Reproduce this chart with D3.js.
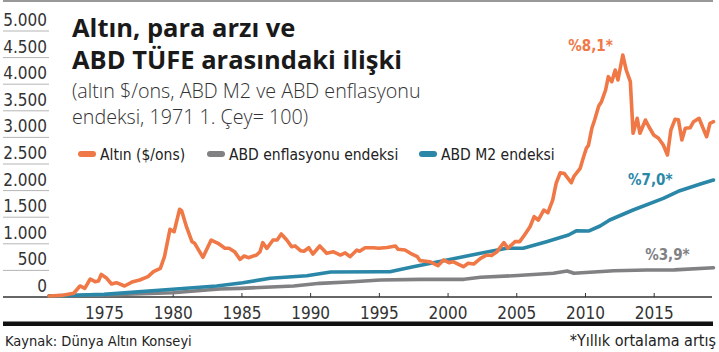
<!DOCTYPE html>
<html>
<head>
<meta charset="utf-8">
<script src="https://cdn.jsdelivr.net/npm/d3@7"></script>
<style>
  body { margin: 0; background: #fff; }
  svg text { font-family: "Liberation Sans Narrow", "DejaVu Sans Condensed", "Noto Sans", sans-serif; }
</style>
</head>
<body>
<div id="chart"></div>
<script>
// Values (index, 1971 Q1 = 100), [year, value]
const gold = [
  [1971.0, 20], [1971.9, 30], [1972.8, 70], [1973.25, 207], [1973.6, 163], [1974.0, 338],
  [1974.35, 288], [1974.6, 300], [1974.8, 426], [1975.2, 351], [1975.55, 244], [1975.9, 269],
  [1976.5, 207], [1977.1, 288], [1977.6, 320], [1978.2, 382], [1978.6, 476], [1979.1, 539],
  [1979.4, 758], [1979.8, 1272], [1980.1, 1227], [1980.5, 1648], [1980.65, 1622], [1981.0, 1321],
  [1981.4, 1040], [1981.6, 1009], [1982.2, 746], [1982.8, 1071], [1983.3, 1009], [1983.8, 915],
  [1984.1, 915], [1984.5, 852], [1984.9, 708], [1985.2, 771], [1985.5, 739], [1986.1, 789],
  [1986.35, 850], [1986.55, 1021], [1986.85, 915], [1987.3, 1071], [1987.6, 1071], [1987.9, 1184],
  [1988.3, 1071], [1988.65, 946], [1988.9, 960], [1989.3, 871], [1989.55, 860], [1989.9, 927],
  [1990.2, 808], [1990.7, 959], [1991.2, 821], [1991.7, 850], [1992.2, 789], [1992.55, 830],
  [1992.9, 758], [1993.4, 883], [1993.6, 860], [1994.0, 927], [1994.6, 927], [1995.0, 915],
  [1995.6, 930], [1996.2, 959], [1996.4, 896], [1996.9, 883], [1997.3, 821], [1997.8, 758],
  [1998.0, 683], [1998.7, 664], [1999.3, 589], [1999.7, 696], [2000.1, 645], [2000.4, 664],
  [2000.8, 614], [2001.15, 570], [2001.5, 633], [2001.9, 620], [2002.4, 727], [2002.85, 789],
  [2003.2, 780], [2003.6, 852], [2004.1, 1021], [2004.4, 915], [2004.9, 1040], [2005.25, 1040],
  [2005.6, 1165], [2006.0, 1321], [2006.3, 1509], [2006.6, 1447], [2007.0, 1635], [2007.3, 1585],
  [2007.65, 1823], [2007.9, 2137], [2008.2, 2336], [2008.5, 2320], [2009.0, 2148], [2009.2, 2270],
  [2009.65, 2419], [2009.9, 2637], [2010.1, 2795], [2010.25, 2850], [2010.5, 3171], [2010.7, 3327],
  [2011.0, 3590], [2011.2, 3671], [2011.5, 3891], [2011.7, 4141], [2011.95, 4047], [2012.2, 4267],
  [2012.4, 4079], [2012.75, 4549], [2013.0, 4267], [2013.3, 4047], [2013.5, 3077], [2013.8, 3359],
  [2014.0, 3077], [2014.4, 3327], [2014.65, 3200], [2015.0, 3045], [2015.35, 2983], [2015.7, 2857],
  [2016.0, 2669], [2016.25, 3139], [2016.55, 3340], [2016.8, 3330], [2017.05, 2951], [2017.3, 3171],
  [2017.65, 3180], [2017.9, 3295], [2018.3, 3359], [2018.55, 3200], [2018.85, 3013], [2019.1, 3265],
  [2019.35, 3295]
];
const cpi = [
  [1971.0, 20], [1975.0, 38], [1980.0, 81], [1983.4, 150], [1984.9, 163], [1988.8, 207],
  [1990.2, 244], [1990.7, 257], [1993.1, 288], [1995.1, 320], [1998.0, 332], [2001.2, 332],
  [2002.4, 370], [2004.8, 400], [2007.7, 445], [2008.7, 489], [2009.2, 445], [2012.1, 494],
  [2014.5, 508], [2016.5, 510], [2019.35, 551]
];
const m2 = [
  [1971.0, 20], [1975.0, 50], [1980.0, 145], [1983.2, 207], [1985.1, 269], [1987.1, 351],
  [1989.75, 400], [1991.5, 470], [1995.1, 476], [1995.8, 476], [1997.5, 570], [1999.7, 683],
  [2002.4, 821], [2004.3, 915], [2005.5, 915], [2007.2, 1040], [2008.8, 1165], [2009.4, 1246],
  [2010.25, 1240], [2011.1, 1335], [2011.8, 1447], [2013.5, 1635], [2015.7, 1855], [2016.9, 1998],
  [2018.4, 2124], [2019.35, 2199]
];

const seriesNames = ['Altın ($/ons)', 'ABD enflasyonu endeksi', 'ABD M2 endeksi'];
const seriesColors = ['#ef7846', '#818184', '#2a87a8'];
const growthLabels = ['%8,1*', '%3,9*', '%7,0*'];
const growthAt = [[2010.4, 4624], [2016.0, 695], [2014.75, 2105]];
const yTicks = [0, 500, 1000, 1500, 2000, 2500, 3000, 3500, 4000, 4500, 5000];
const xTicks = [1975, 1980, 1985, 1990, 1995, 2000, 2005, 2010, 2015];
const titleLines = ['Altın, para arzı ve', 'ABD TÜFE arasındaki ilişki'];
const subtitleLines = ['(altın $/ons, ABD M2 ve ABD enflasyonu', 'endeksi, 1971 1. Çey= 100)'];

const W = 719, H = 352;
const svg = d3.select('#chart').append('svg')
  .attr('width', W)
  .attr('height', H);

const x = d3.scaleLinear().domain([1975, 2015]).range([104, 653.7]);
const y = d3.scaleLinear().domain([0, 5000]).range([297, 31]);
const fmt = d3.formatLocale({ decimal: ',', thousands: '.', grouping: [3], currency: ['', ''] }).format(',');

// top rule
svg.append('line')
  .attr('x1', 3).attr('x2', 713).attr('y1', 1).attr('y2', 1)
  .attr('stroke', '#333').attr('stroke-width', 1.2);

// y labels with short rules beneath
const yg = svg.append('g');
yg.selectAll('line')
  .data(yTicks.filter(d => d > 0))
  .enter().append('line')
  .attr('x1', 3).attr('x2', 49)
  .attr('y1', d => y(d)).attr('y2', d => y(d))
  .attr('stroke', '#b5b5b5').attr('stroke-width', 1);
yg.selectAll('text')
  .data(yTicks)
  .enter().append('text')
  .attr('x', 47)
  .attr('y', d => y(d) - 5)
  .attr('text-anchor', 'end')
  .style('font-size', '17px')
  .style('fill', '#333')
  .text(d => fmt(d));

// x axis
const xAxis = d3.axisBottom(x)
  .tickValues(xTicks)
  .tickSize(-4)
  .tickPadding(10)
  .tickFormat(d3.format('d'));
const xg = svg.append('g')
  .attr('transform', `translate(0, ${y(0)})`)
  .call(xAxis);
xg.select('.domain').remove();
xg.selectAll('.tick line').attr('stroke', '#333');
xg.selectAll('.tick text')
  .style('font-size', '17px')
  .style('fill', '#333')
  .style('font-family', '"Liberation Sans Narrow", "DejaVu Sans Condensed", sans-serif');
svg.append('line')
  .attr('x1', 3).attr('x2', 712).attr('y1', y(0)).attr('y2', y(0))
  .attr('stroke', '#333').attr('stroke-width', 1.3);

// lines
const line = d3.line()
  .x(d => x(d[0]))
  .y(d => y(d[1]));
[cpi, m2, gold].forEach((s, i) => {
  const idx = [1, 2, 0][i];
  svg.append('path')
    .datum(s)
    .attr('d', line)
    .attr('fill', 'none')
    .attr('stroke', seriesColors[idx])
    .attr('stroke-width', 3.6)
    .attr('stroke-linejoin', 'round')
    .attr('stroke-linecap', 'round');
});

// growth labels
svg.selectAll('.growth')
  .data(growthLabels)
  .enter().append('text')
  .attr('class', 'growth')
  .attr('x', (d, i) => x(growthAt[i][0]))
  .attr('y', (d, i) => y(growthAt[i][1]))
  .attr('text-anchor', 'middle')
  .style('font-size', '15px')
  .style('font-weight', 'bold')
  .style('fill', (d, i) => seriesColors[i])
  .text(d => d);

// title (one text, two lines)
svg.append('text')
  .attr('y', 37)
  .style('font-family', '"Open Sans", sans-serif')
  .style('font-weight', 'bold')
  .style('font-size', '25.5px')
  .style('fill', '#1a1a1a')
  .selectAll('tspan')
  .data(titleLines)
  .enter().append('tspan')
  .attr('x', 72)
  .attr('dy', (d, i) => i ? 32 : 0)
  .text(d => d);

svg.append('text')
  .attr('y', 98)
  .style('font-family', '"Open Sans", sans-serif')
  .style('font-weight', 300)
  .style('font-size', '19.7px')
  .style('fill', '#333')
  .selectAll('tspan')
  .data(subtitleLines)
  .enter().append('tspan')
  .attr('x', 72)
  .attr('dy', (d, i) => i ? 26 : 0)
  .text(d => d);

// legend
const legendX = [78, 207, 419];
const legend = svg.selectAll('.legend')
  .data(seriesNames)
  .enter().append('g')
  .attr('class', 'legend')
  .attr('transform', (d, i) => `translate(${legendX[i]}, 154)`);
legend.append('rect')
  .attr('x', 0).attr('y', -3)
  .attr('width', 18).attr('height', 6)
  .attr('rx', 3)
  .attr('fill', (d, i) => seriesColors[i]);
legend.append('text')
  .attr('x', 22).attr('y', 6)
  .style('font-size', '15.5px')
  .style('fill', '#222')
  .text(d => d);

// footer
svg.append('rect')
  .attr('x', 3).attr('y', 321.5)
  .attr('width', 710).attr('height', 4.5)
  .attr('fill', '#111');
svg.append('text')
  .attr('x', 5).attr('y', 346)
  .style('font-size', '14.5px')
  .style('fill', '#222')
  .text('Kaynak: Dünya Altın Konseyi');
svg.append('text')
  .attr('x', 716).attr('y', 346)
  .attr('text-anchor', 'end')
  .style('font-size', '16px')
  .style('fill', '#222')
  .text('*Yıllık ortalama artış');
</script>
</body>
</html>
